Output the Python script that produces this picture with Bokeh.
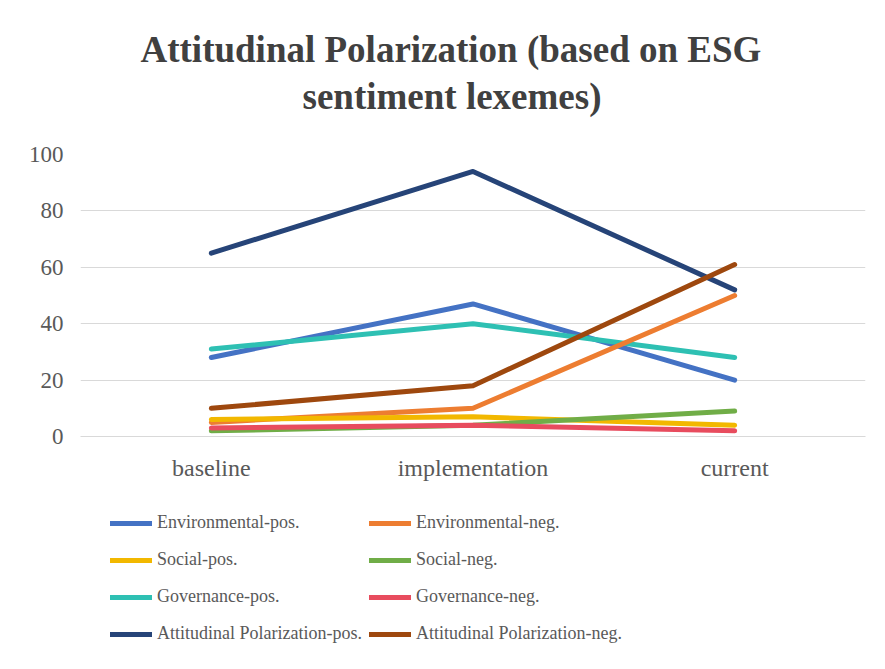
from bokeh.plotting import figure
from bokeh.layouts import column
from bokeh.models import FactorRange, Range1d, Legend, LegendItem, Title, FixedTicker
from bokeh.embed import file_html
from bokeh.resources import INLINE

categories = ["baseline", "implementation", "current"]
env_pos = [28, 47, 20]
env_neg = [5, 10, 50]
soc_pos = [6, 7, 4]
soc_neg = [2, 4, 9]
gov_pos = [31, 40, 28]
gov_neg = [3, 4, 2]
ap_pos = [65, 94, 52]
ap_neg = [10, 18, 61]
y_ticks = [0, 20, 40, 60, 80, 100]

series = [
    ("Environmental-pos.", env_pos, "#4472C4"),
    ("Environmental-neg.", env_neg, "#ED7D31"),
    ("Social-pos.", soc_pos, "#F2B800"),
    ("Social-neg.", soc_neg, "#70AD47"),
    ("Governance-pos.", gov_pos, "#2EC0B3"),
    ("Governance-neg.", gov_neg, "#E84C5E"),
    ("Attitudinal Polarization-pos.", ap_pos, "#264478"),
    ("Attitudinal Polarization-neg.", ap_neg, "#9E480E"),
]

FONT = "Liberation Serif"
GRAY = "#595959"

p = figure(width=885, height=500, x_range=FactorRange(*categories, range_padding=0),
           y_range=Range1d(0, 100), output_backend="svg", toolbar_location=None,
           min_border_left=80, min_border_right=20, min_border_top=154, min_border_bottom=64)
p.outline_line_color = None
p.background_fill_color = "white"
p.border_fill_color = "white"

order = [6, 0, 4, 7, 1, 2, 3, 5]
for i in order:
    name, vals, color = series[i]
    p.line(categories, vals, line_color=color, line_width=5, line_cap="round", line_join="round")

p.xgrid.grid_line_color = None
p.ygrid.grid_line_color = "#d9d9d9"
p.ygrid.grid_line_width = 1
p.yaxis.ticker = FixedTicker(ticks=y_ticks)
p.yaxis.axis_line_color = None
p.yaxis.major_tick_line_color = None
p.yaxis.minor_tick_line_color = None
p.yaxis.major_label_text_font = FONT
p.yaxis.major_label_text_font_size = "23px"
p.yaxis.major_label_text_color = GRAY
p.yaxis.major_label_standoff = 11

p.xaxis.axis_line_color = "#d9d9d9"
p.xaxis.major_tick_line_color = None
p.xaxis.minor_tick_line_color = None
p.xaxis.major_label_text_font = FONT
p.xaxis.major_label_text_font_size = "24px"
p.xaxis.major_label_text_color = GRAY
p.xaxis.major_label_standoff = 12

t2 = Title(text="sentiment lexemes)", align="left", offset=222,
           text_font=FONT, text_font_size="37px", text_font_style="bold", text_color="#404040",
           standoff=75)
t1 = Title(text="Attitudinal Polarization (based on ESG", align="left", offset=60,
           text_font=FONT, text_font_size="37px", text_font_style="bold", text_color="#404040",
           standoff=-67)
p.add_layout(t2, "above")
p.add_layout(t1, "above")

# legend panel
q = figure(width=885, height=169, x_range=FactorRange(*categories), y_range=Range1d(-200, -100),
           output_backend="svg", toolbar_location=None,
           min_border_left=0, min_border_right=0, min_border_top=0, min_border_bottom=0)
q.axis.visible = False
q.grid.visible = False
q.outline_line_color = None
q.border_fill_color = "white"
leg_kw = dict(label_text_font=FONT, label_text_font_size="18px", label_text_color=GRAY,
              glyph_width=42, glyph_height=20, label_standoff=5, spacing=16, padding=0, margin=0,
              border_line_color=None, background_fill_alpha=0, label_height=20)
left_items, right_items = [], []
for k, (name, vals, color) in enumerate(series):
    r = q.line(categories, vals, line_color=color, line_width=5, line_cap="round")
    (left_items if k % 2 == 0 else right_items).append(LegendItem(label=name, renderers=[r]))
q.add_layout(Legend(items=left_items, location=(30, 25), **leg_kw), "center")
q.add_layout(Legend(items=right_items, location=(289, 25), **leg_kw), "center")

layout = column(p, q, spacing=0)
open("out.html", "w").write(file_html(layout, INLINE))
